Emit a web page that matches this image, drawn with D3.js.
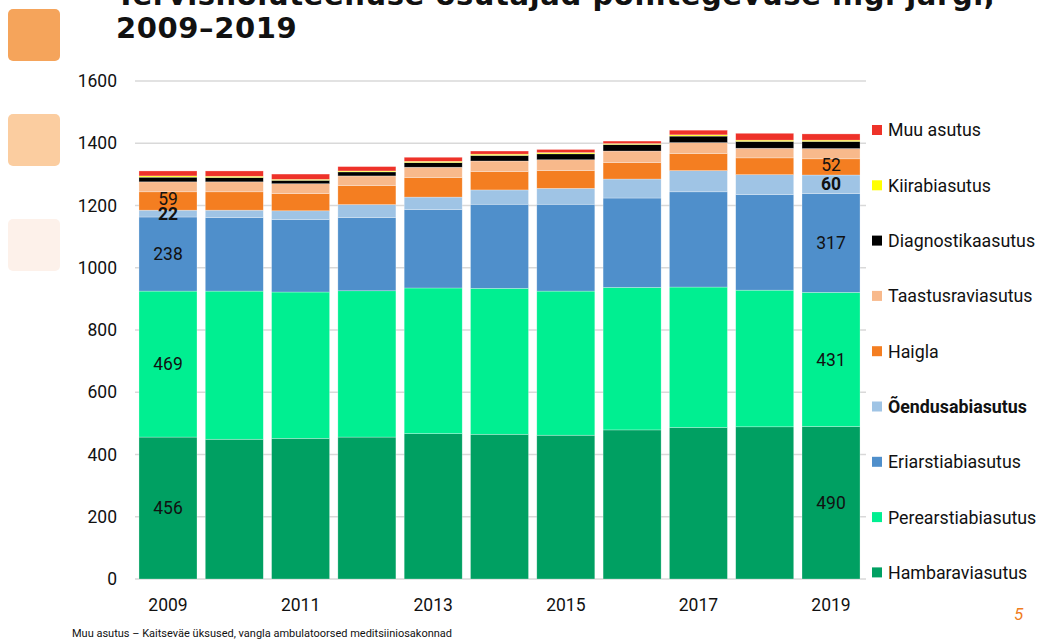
<!DOCTYPE html>
<html>
<head>
<meta charset="utf-8">
<script src="https://cdn.jsdelivr.net/npm/d3@7"></script>
<style>
  body { margin: 0; background: #fff; }
  svg { display: block; font-family: Roboto, "DejaVu Sans", sans-serif; }
  .title { font-family: "DejaVu Sans", sans-serif; font-weight: bold; font-size: 29px; fill: #111; letter-spacing: 0.6px; }
  .axis text { font-size: 17.5px; fill: #111; }
  .legend text { font-size: 17.8px; fill: #111; }
</style>
</head>
<body>
<div id="chart"></div>
<script>
const years = [2009, 2010, 2011, 2012, 2013, 2014, 2015, 2016, 2017, 2018, 2019];
const yearTicks = [2009, 2011, 2013, 2015, 2017, 2019];
const valueTicks = [0, 200, 400, 600, 800, 1000, 1200, 1400, 1600];

// bottom to top
const hambaravi = [456, 449, 452, 456, 467, 465, 462, 479, 487, 489, 490];
const perearst  = [469, 476, 470, 470, 468, 469, 463, 458, 451, 439, 431];
const eriarst   = [238, 236, 233, 235, 252, 270, 279, 287, 306, 307, 317];
const oendus    = [22, 24, 28, 42, 40, 46, 51, 61, 68, 64, 60];
const haigla    = [59, 59, 55, 61, 63, 59, 57, 53, 55, 54, 52];
const taastus   = [32, 32, 32, 31, 33, 34, 35, 37, 35, 31, 33];
const diagn     = [15, 14, 11, 13, 15, 18, 19, 21, 21, 22, 23];
const kiirabi   = [4, 4, 3, 3, 4, 4, 4, 3, 4, 4, 4];
const muu       = [16, 17, 17, 14, 13, 10, 10, 8, 15, 22, 20];

const seriesNames = ["Hambaraviasutus", "Perearstiabiasutus", "Eriarstiabiasutus", "Õendusabiasutus",
  "Haigla", "Taastusraviasutus", "Diagnostikaasutus", "Kiirabiasutus", "Muu asutus"];
const seriesValues = [hambaravi, perearst, eriarst, oendus, haigla, taastus, diagn, kiirabi, muu];
const seriesColors = ["#00a062", "#00ef91", "#4f8fcb", "#9fc4e5", "#f47e21", "#f8b98b", "#000000", "#ffff00", "#ee3229"];

// value labels shown: [series index, year index, bold]
const shownLabels = [[0, 0, false], [1, 0, false], [2, 0, false], [3, 0, true], [4, 0, false],
                     [0, 10, false], [1, 10, false], [2, 10, false], [3, 10, true], [4, 10, false]];

const w = 1049, h = 641;
const svg = d3.select("#chart").append("svg").attr("width", w).attr("height", h);

// left decoration squares
svg.selectAll("rect.deco")
   .data(["#f5a45b", "#fbcda0", "#fdf1ea"])
   .enter().append("rect")
   .attr("class", "deco")
   .attr("x", 8).attr("y", (d, i) => 9 + i * 105)
   .attr("width", 52).attr("height", 52).attr("rx", 5)
   .attr("fill", d => d);

svg.append("text").attr("class", "title").attr("x", 116).attr("y", 5)
   .text("Tervishoiuteenuse osutajad põhitegevuse liigi järgi,");
svg.append("text").attr("class", "title").attr("x", 116).attr("y", 38)
   .text("2009–2019");

const xScale = d3.scaleBand().domain(years).range([135, 864]).paddingInner(0.125).paddingOuter(0.06);
const yScale = d3.scaleLinear().domain([0, 1600]).range([579, 81]);

// gridlines
svg.append("g").selectAll("line")
   .data(valueTicks).enter().append("line")
   .attr("x1", 135).attr("x2", 866)
   .attr("y1", d => yScale(d)).attr("y2", d => yScale(d))
   .attr("stroke", "#d9d9d9").attr("stroke-width", 1.3);

const yAxis = d3.axisLeft(yScale).tickValues(valueTicks).tickFormat(d3.format("d")).tickSize(0).tickPadding(0);
svg.append("g").attr("class", "axis").attr("transform", "translate(117,0)").call(yAxis)
   .call(g => g.select(".domain").remove())
   .selectAll("text").attr("font-family", "Roboto");

const xAxis = d3.axisBottom(xScale).tickValues(yearTicks).tickSize(0).tickPadding(0);
svg.append("g").attr("class", "axis").attr("transform", "translate(0,593)").call(xAxis)
   .call(g => g.select(".domain").remove())
   .selectAll("text").attr("font-family", "Roboto").attr("dy", "1em");

// stacked bars
const table = years.map((y, i) => {
  const row = { year: y };
  seriesNames.forEach((n, k) => row[n] = seriesValues[k][i]);
  return row;
});
const stacked = d3.stack().keys(seriesNames)(table);

svg.append("g").selectAll("g")
   .data(stacked).enter().append("g")
   .attr("fill", (d, i) => seriesColors[i])
   .selectAll("rect")
   .data(d => d).enter().append("rect")
   .attr("x", d => xScale(d.data.year))
   .attr("width", xScale.bandwidth())
   .attr("y", d => yScale(d[1]))
   .attr("height", d => yScale(d[0]) - yScale(d[1]))
   .attr("stroke", "rgba(255,255,255,0.45)")
   .attr("stroke-width", 0.6);

// value labels (the small haigla one nudged up a little, as in the original)
svg.append("g").selectAll("text")
   .data(shownLabels).enter().append("text")
   .attr("x", d => xScale(years[d[1]]) + xScale.bandwidth() / 2)
   .attr("y", d => yScale((stacked[d[0]][d[1]][0] + stacked[d[0]][d[1]][1]) / 2) - (d[0] === 4 ? 2 : 0))
   .attr("dy", "0.35em")
   .attr("text-anchor", "middle")
   .attr("font-size", "17.5px")
   .attr("font-weight", d => d[2] ? "bold" : "normal")
   .attr("fill", "#111")
   .text(d => seriesValues[d[0]][d[1]]);

// legend, top item is the top of the stack
const legendItems = seriesNames.map((n, i) => ({ name: n, color: seriesColors[i] })).reverse();
const legend = svg.append("g").attr("class", "legend");
const item = legend.selectAll("g").data(legendItems).enter().append("g")
   .attr("transform", (d, i) => "translate(872," + (130 + i * 55.3) + ")");
item.append("rect").attr("x", 0).attr("y", -5).attr("width", 10).attr("height", 10)
    .attr("fill", d => d.color);
item.append("text").attr("x", 16).attr("dy", "0.36em")
    .attr("font-weight", d => d.name === "Õendusabiasutus" ? "bold" : "normal")
    .text(d => d.name);

svg.append("text").attr("x", 72).attr("y", 637).attr("font-size", "11px").attr("fill", "#111")
   .text("Muu asutus – Kaitseväe üksused, vangla ambulatoorsed meditsiiniosakonnad");

svg.append("text").attr("x", 1014).attr("y", 620).attr("font-size", "17px")
   .attr("font-style", "italic").attr("fill", "#f07d1e").text("5");
</script>
</body>
</html>
